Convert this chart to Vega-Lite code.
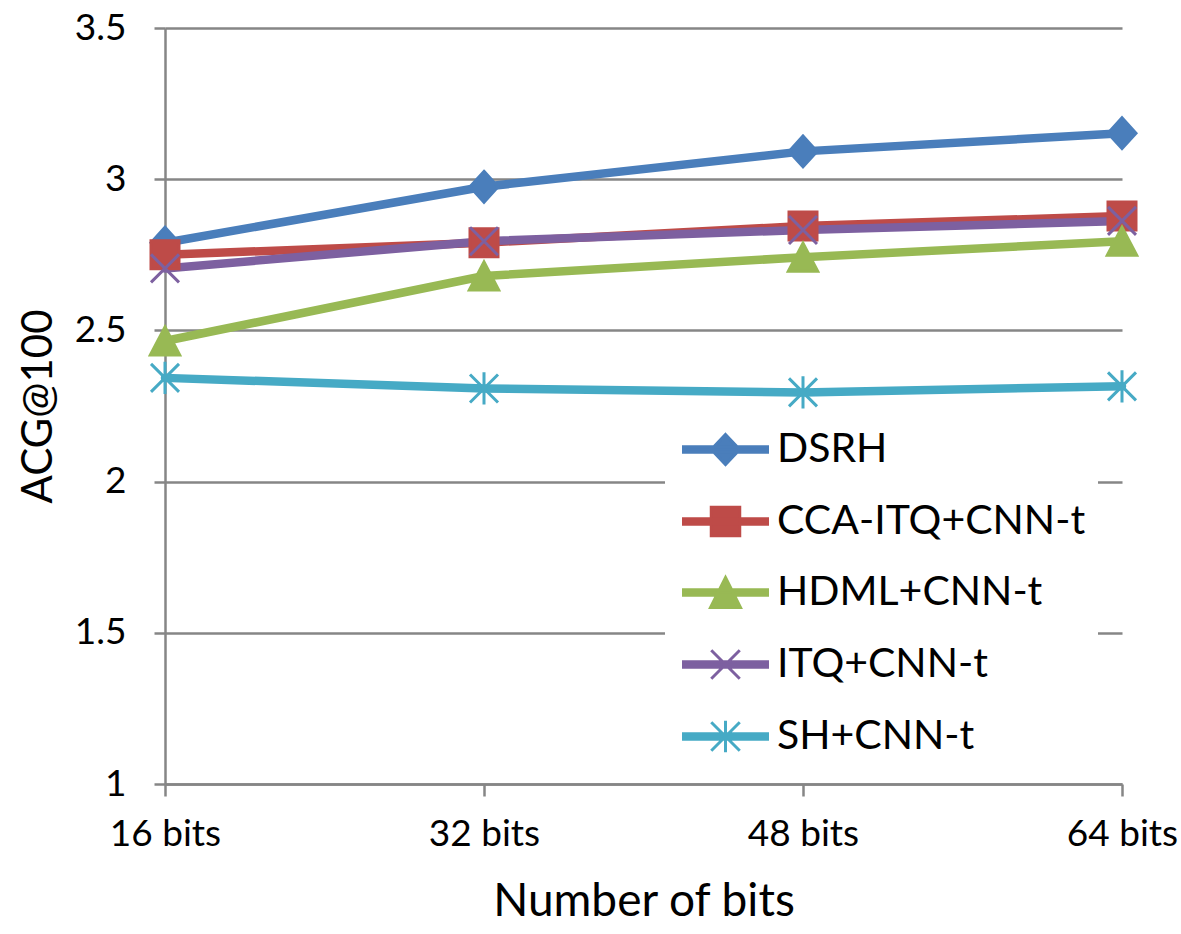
{
  "$schema": "https://vega.github.io/schema/vega-lite/v6.json",
  "width": 957,
  "height": 756,
  "padding": {"left": 17, "top": 9, "right": 5, "bottom": 5},
  "background": "white",
  "config": {
    "view": {"stroke": null},
    "font": "Lato"
  },
  "data": {
    "values": [
      {"bits": "16 bits", "method": "DSRH", "acg": 2.79},
      {"bits": "32 bits", "method": "DSRH", "acg": 2.975},
      {"bits": "48 bits", "method": "DSRH", "acg": 3.092},
      {"bits": "64 bits", "method": "DSRH", "acg": 3.152},
      {"bits": "16 bits", "method": "CCA-ITQ+CNN-t", "acg": 2.75},
      {"bits": "32 bits", "method": "CCA-ITQ+CNN-t", "acg": 2.79},
      {"bits": "48 bits", "method": "CCA-ITQ+CNN-t", "acg": 2.845},
      {"bits": "64 bits", "method": "CCA-ITQ+CNN-t", "acg": 2.878},
      {"bits": "16 bits", "method": "HDML+CNN-t", "acg": 2.465},
      {"bits": "32 bits", "method": "HDML+CNN-t", "acg": 2.68},
      {"bits": "48 bits", "method": "HDML+CNN-t", "acg": 2.742},
      {"bits": "64 bits", "method": "HDML+CNN-t", "acg": 2.795},
      {"bits": "16 bits", "method": "ITQ+CNN-t", "acg": 2.705},
      {"bits": "32 bits", "method": "ITQ+CNN-t", "acg": 2.795},
      {"bits": "48 bits", "method": "ITQ+CNN-t", "acg": 2.832},
      {"bits": "64 bits", "method": "ITQ+CNN-t", "acg": 2.862},
      {"bits": "16 bits", "method": "SH+CNN-t", "acg": 2.343},
      {"bits": "32 bits", "method": "SH+CNN-t", "acg": 2.308},
      {"bits": "48 bits", "method": "SH+CNN-t", "acg": 2.295},
      {"bits": "64 bits", "method": "SH+CNN-t", "acg": 2.315}
    ]
  },
  "encoding": {
    "x": {
      "field": "bits",
      "type": "ordinal",
      "scale": {"type": "point", "padding": 0},
      "sort": ["16 bits", "32 bits", "48 bits", "64 bits"],
      "axis": {
        "title": "Number of bits",
        "labelAngle": 0,
        "labelFont": "Lato",
        "labelFontSize": 37,
        "labelColor": "black",
        "labelPadding": 20,
        "labelOverlap": false,
        "labelFlush": false,
        "tickSize": 12,
        "tickWidth": 2.5,
        "tickColor": "#868686",
        "domainColor": "#868686",
        "domainWidth": 2.5,
        "grid": false,
        "titleFont": "Lato",
        "titleFontSize": 46,
        "titleFontWeight": "normal",
        "titleColor": "black",
        "titlePadding": 27
      }
    },
    "y": {
      "field": "acg",
      "type": "quantitative",
      "scale": {"domain": [1, 3.5], "nice": false, "zero": false},
      "axis": {
        "title": "ACG@100",
        "values": [1, 1.5, 2, 2.5, 3, 3.5],
        "labelExpr": "'' + datum.value",
        "labelFont": "Lato",
        "labelFontSize": 37,
        "labelColor": "black",
        "labelPadding": 28,
        "tickSize": 11,
        "tickWidth": 2.5,
        "tickColor": "#868686",
        "domainColor": "#868686",
        "domainWidth": 2.5,
        "grid": true,
        "gridColor": "#868686",
        "gridWidth": 2.5,
        "titleFont": "Lato",
        "titleFontSize": 42,
        "titleFontWeight": "normal",
        "titleColor": "black",
        "titlePadding": 14
      }
    }
  },
  "resolve": {"scale": {"color": "independent", "shape": "independent", "stroke": "independent"}},
  "layer": [
    {
      "mark": {"type": "line", "strokeWidth": 8.5, "strokeJoin": "round", "strokeCap": "round"},
      "encoding": {
        "color": {
          "field": "method",
          "type": "nominal",
          "scale": {
            "domain": ["DSRH", "CCA-ITQ+CNN-t", "HDML+CNN-t", "ITQ+CNN-t", "SH+CNN-t"],
            "range": ["#4A7EBB", "#BE4B48", "#98B954", "#7D60A0", "#46AAC5"]
          },
          "legend": null
        }
      }
    },
    {
      "mark": {"type": "point", "filled": true, "size": 784, "strokeWidth": 3, "opacity": 1},
      "encoding": {
        "color": {
          "field": "method",
          "type": "nominal",
          "scale": {
            "domain": ["DSRH", "CCA-ITQ+CNN-t", "HDML+CNN-t", "ITQ+CNN-t", "SH+CNN-t"],
            "range": ["#4A7EBB", "#BE4B48", "#98B954", "#7D60A0", "#46AAC5"]
          },
          "legend": null
        },
        "shape": {
          "field": "method",
          "type": "nominal",
          "scale": {
            "domain": ["DSRH", "CCA-ITQ+CNN-t", "HDML+CNN-t", "ITQ+CNN-t", "SH+CNN-t"],
            "range": [
              "M0,-1.1L1,0L0,1.1L-1,0Z",
              "M-1,-1L1,-1L1,1L-1,1Z",
              "M0,-1L1.05,1L-1.05,1Z",
              "M-1,-1L1,1M-1,1L1,-1",
              "M-1,-1L1,1M-1,1L1,-1M0,-1.15L0,1.15"
            ]
          },
          "legend": null
        },
        "stroke": {
          "field": "method",
          "type": "nominal",
          "scale": {
            "domain": ["DSRH", "CCA-ITQ+CNN-t", "HDML+CNN-t", "ITQ+CNN-t", "SH+CNN-t"],
            "range": ["#4A7EBB", "#BE4B48", "#98B954", "#7D60A0", "#46AAC5"]
          },
          "legend": null
        }
      }
    },
    {
      "mark": {"type": "point", "filled": true, "size": 900, "strokeWidth": 3, "opacity": 0},
      "encoding": {
        "color": {
          "field": "method",
          "type": "nominal",
          "scale": {
            "domain": ["DSRH", "CCA-ITQ+CNN-t", "HDML+CNN-t", "ITQ+CNN-t", "SH+CNN-t"],
            "range": ["#4A7EBB", "#BE4B48", "#98B954", "#7D60A0", "#46AAC5"]
          },
          "legend": {
            "orient": "none",
            "legendX": 500,
            "legendY": 389,
            "title": null,
            "fillColor": "white",
            "padding": 12,
            "labelFont": "Lato",
            "labelFontSize": 41,
            "labelColor": "black",
            "labelLimit": 500,
            "symbolSize": 900,
            "symbolStrokeWidth": 3,
            "symbolOpacity": 1,
            "symbolOffset": 28,
            "labelOffset": 31,
            "rowPadding": 29
          }
        },
        "shape": {
          "field": "method",
          "type": "nominal",
          "scale": {
            "domain": ["DSRH", "CCA-ITQ+CNN-t", "HDML+CNN-t", "ITQ+CNN-t", "SH+CNN-t"],
            "range": [
              "M-2.8,-0.18L2.8,-0.18L2.8,0.18L-2.8,0.18ZM0,-1L0.95,0L0,1L-0.95,0Z",
              "M-2.8,-0.18L2.8,-0.18L2.8,0.18L-2.8,0.18ZM-0.95,-0.95L0.95,-0.95L0.95,0.95L-0.95,0.95Z",
              "M-2.8,-0.18L2.8,-0.18L2.8,0.18L-2.8,0.18ZM0,-1L1,1L-1,1Z",
              "M-2.8,-0.18L2.8,-0.18L2.8,0.18L-2.8,0.18ZM-0.95,-0.95L0.95,0.95M-0.95,0.95L0.95,-0.95",
              "M-2.8,-0.18L2.8,-0.18L2.8,0.18L-2.8,0.18ZM-0.95,-0.95L0.95,0.95M-0.95,0.95L0.95,-0.95M0,-1.05L0,1.05"
            ]
          },
          "legend": {
            "orient": "none",
            "legendX": 500,
            "legendY": 389,
            "title": null,
            "fillColor": "white",
            "padding": 12,
            "labelFont": "Lato",
            "labelFontSize": 41,
            "labelColor": "black",
            "labelLimit": 500,
            "symbolSize": 900,
            "symbolStrokeWidth": 3,
            "symbolOpacity": 1,
            "symbolOffset": 28,
            "labelOffset": 31,
            "rowPadding": 29
          }
        },
        "stroke": {
          "field": "method",
          "type": "nominal",
          "scale": {
            "domain": ["DSRH", "CCA-ITQ+CNN-t", "HDML+CNN-t", "ITQ+CNN-t", "SH+CNN-t"],
            "range": ["#4A7EBB", "#BE4B48", "#98B954", "#7D60A0", "#46AAC5"]
          },
          "legend": null
        }
      }
    }
  ]
}
